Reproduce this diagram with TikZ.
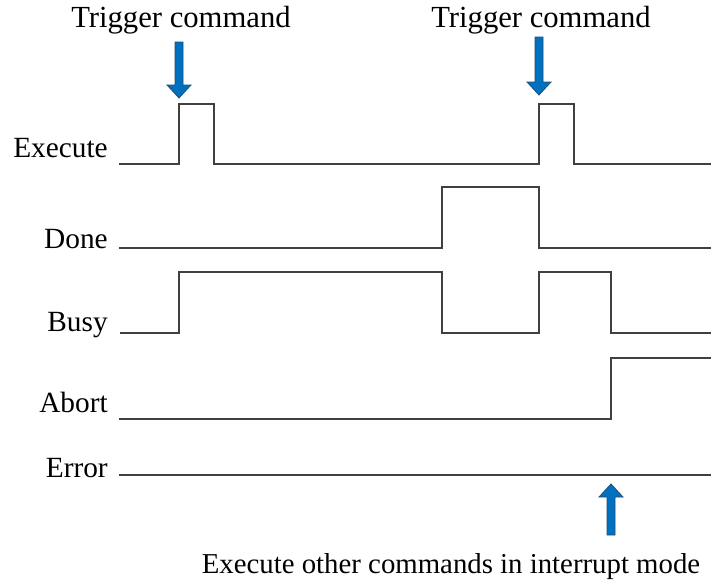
\documentclass[tikz,border=0pt]{standalone}
\usepackage{fontspec}
\setmainfont{Liberation Serif}
\usetikzlibrary{positioning,calc}
\definecolor{wave}{HTML}{404040}
\definecolor{arrowblue}{HTML}{0070C0}
\definecolor{arrowedge}{HTML}{1F4E79}

\begin{document}
\begin{tikzpicture}[
  x=0.75pt, y=-0.75pt,
  font=\fontsize{22}{26}\selectfont,
  sig/.style={draw=wave, line width=1.9pt, line join=miter},
  lbl/.style={anchor=base east, inner sep=0pt},
  note/.style={anchor=base, inner sep=0pt},
  trig/.style={fill=arrowblue, draw=arrowedge, line width=0.6pt, line join=miter},
  pics/sigarrow/.style={code={
    \draw[trig] (-4,-#1) -- (-4,-13) -- (-12,-13) -- (0,0) -- (12,-13) -- (4,-13) -- (4,-#1) -- cycle;}}
]
\useasboundingbox (0,0) rectangle (711,586);

% ---- signal names ----
\node[lbl] (lexec)  at (108,157) {Execute};
\node[lbl] (ldone)  at (108,248) {Done};
\node[lbl] (lbusy)  at (108,331) {Busy};
\node[lbl] (labort) at (108,412) {Abort};
\node[lbl] (lerror) at (108,477) {Error};

% ---- start points of the waveforms ----
\coordinate (wexec)  at (119,164);
\coordinate (wdone)  at (119,248);
\coordinate (wbusy)  at (120,333);
\coordinate (wabort) at (119,419);
\coordinate (werror) at (119,475);

% ---- waveforms ----
\draw[sig] (wexec) -- (179,164) -- (179,104) -- (214,104) -- (214,164)
  -- (539,164) -- (539,104) -- (574,104) -- (574,164) -- (711,164);
\draw[sig] (wdone) -- (442,248) -- (442,187) -- (539,187) -- (539,248) -- (711,248);
\draw[sig] (wbusy) -- (179,333) -- (179,272) -- (442,272) -- (442,333)
  -- (539,333) -- (539,272) -- (611,272) -- (611,333) -- (711,333);
\draw[sig] (wabort) -- (611,419) -- (611,358) -- (711,358);
\draw[sig] (werror) -- (711,475);

% ---- trigger marks ----
\node[note, font=\fontsize{23}{27}\selectfont] (trig1) at (181,27) {Trigger command};
\node[note, font=\fontsize{23}{27}\selectfont] (trig2) at (541,27) {Trigger command};
\pic at (179,98) {sigarrow=56};
\pic at (539,95) {sigarrow=58};

% ---- interrupt mark ----
\pic[rotate=180] at (611,484) {sigarrow=51};
\node[note, font=\fontsize{21.6}{26}\selectfont] (intr) at (451,573) {Execute other commands in interrupt mode};

\end{tikzpicture}
\end{document}
